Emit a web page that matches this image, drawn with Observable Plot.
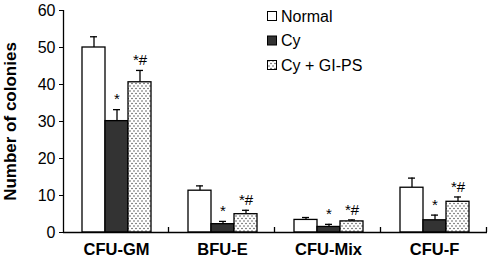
<!DOCTYPE html>
<html>
<head>
<meta charset="utf-8">
<script src="https://cdn.jsdelivr.net/npm/d3@7"></script>
<script src="https://cdn.jsdelivr.net/npm/@observablehq/plot@0.6"></script>
<style>
  html, body { margin: 0; padding: 0; background: white; }
</style>
</head>
<body>
<div id="chart"></div>
<script>
const categories = ["CFU-GM", "BFU-E", "CFU-Mix", "CFU-F"];
const groups = ["Normal", "Cy", "Cy + GI-PS"];
const normalValues = [50, 11.3, 3.4, 12.1];
const normalErrTop = [52.9, 12.6, 4.05, 14.7];
const cyValues = [30.1, 2.25, 1.5, 3.3];
const cyErrTop = [33.2, 3.0, 2.2, 4.7];
const gipsValues = [40.6, 4.95, 3.0, 8.3];
const gipsErrTop = [43.8, 6.0, 3.4, 9.6];
const cySig = ["*", "*", "*", "*"];
const gipsSig = ["*#", "*#", "*#", "*#"];
const yTicks = [0, 10, 20, 30, 40, 50, 60];
const fills = ["white", "#333333", "url(#dots)"];

const series = [
  {values: normalValues, err: normalErrTop, sig: null},
  {values: cyValues, err: cyErrTop, sig: cySig},
  {values: gipsValues, err: gipsErrTop, sig: gipsSig}
];
const rows = [];
categories.forEach((c, i) => {
  groups.forEach((g, j) => {
    const s = series[j];
    rows.push({category: c, group: g, value: s.values[i], err: s.err[i], sig: s.sig ? s.sig[i] : null});
  });
});

const font = "Liberation Sans, Arial, Helvetica, sans-serif";

const plot = Plot.plot({
  width: 490,
  height: 266,
  marginLeft: 62,
  marginRight: 3,
  marginTop: 10,
  marginBottom: 34,
  style: {fontFamily: font, background: "white", color: "black"},
  fx: {domain: categories, padding: 0, label: null},
  x: {domain: groups, paddingInner: 0, paddingOuter: 0.74, axis: null},
  y: {domain: [0, 60]},
  color: {domain: groups, range: fills},
  marks: [
    Plot.axisY({ticks: yTicks, tickSize: 4, tickPadding: 4, fontSize: 16, label: "Number of colonies",
      labelAnchor: "center", labelArrow: "none", labelOffset: 60}),
    Plot.axisFx({anchor: "bottom", tickSize: 0, tickPadding: 11, fontSize: 16.5, fontWeight: "bold", label: null}),
    Plot.ruleX(rows, {fx: "category", x: "group", y1: "value", y2: "err", stroke: "black", strokeWidth: 1.3}),
    Plot.tickY(rows, {fx: "category", x: "group", y: "err", stroke: "black", strokeWidth: 1.3, insetLeft: 8, insetRight: 8}),
    Plot.barY(rows, {fx: "category", x: "group", y: "value", fill: "group", stroke: "black", strokeWidth: 1.3}),
    Plot.text(rows.filter(d => d.sig), {fx: "category", x: "group", y: "err", text: "sig", dy: -10, fontSize: 15, fill: "black"}),
    Plot.ruleY([0], {stroke: "black", strokeWidth: 1.3})
  ]
});

const svg = d3.select(plot);
// y label styling
svg.selectAll('g[aria-label="y-axis label"]').attr("font-weight", "bold").attr("font-size", 17);

// dotted pattern
const defs = svg.insert("defs", ":first-child");
const pat = defs.append("pattern").attr("id", "dots").attr("patternUnits", "userSpaceOnUse")
  .attr("width", 4).attr("height", 5);
pat.append("rect").attr("width", 4).attr("height", 5).attr("fill", "white");
pat.append("circle").attr("cx", 1).attr("cy", 1).attr("r", 0.7).attr("fill", "#333");
pat.append("circle").attr("cx", 3).attr("cy", 3.5).attr("r", 0.7).attr("fill", "#333");

// axis line and boundary ticks from the plot's scales
const fx = plot.scale("fx");
const y = plot.scale("y");
const y0 = y.apply(0), y60 = y.apply(60);
const left = fx.apply(categories[0]);
const g = svg.append("g").attr("stroke", "black").attr("stroke-width", 1.3);
g.append("line").attr("x1", left + 0.5).attr("x2", left + 0.5).attr("y1", y0).attr("y2", y60);
categories.forEach(c => {
  const xb = fx.apply(c) + fx.bandwidth;
  g.append("line").attr("x1", xb - 0.5).attr("x2", xb - 0.5).attr("y1", y0).attr("y2", y0 - 5);
});

// legend
const lg = svg.append("g").attr("font-family", font).attr("font-size", 16).attr("text-anchor", "start");
const legendY = [16, 40.5, 65];
groups.forEach((grp, j) => {
  lg.append("rect").attr("x", 267.5).attr("y", legendY[j] - 4.5).attr("width", 9).attr("height", 9)
    .attr("fill", fills[j]).attr("stroke", "black").attr("stroke-width", 1);
  lg.append("text").attr("x", 281).attr("y", legendY[j]).attr("dy", "0.35em").attr("fill", "black").text(grp);
});

document.getElementById("chart").appendChild(plot);
</script>
</body>
</html>
